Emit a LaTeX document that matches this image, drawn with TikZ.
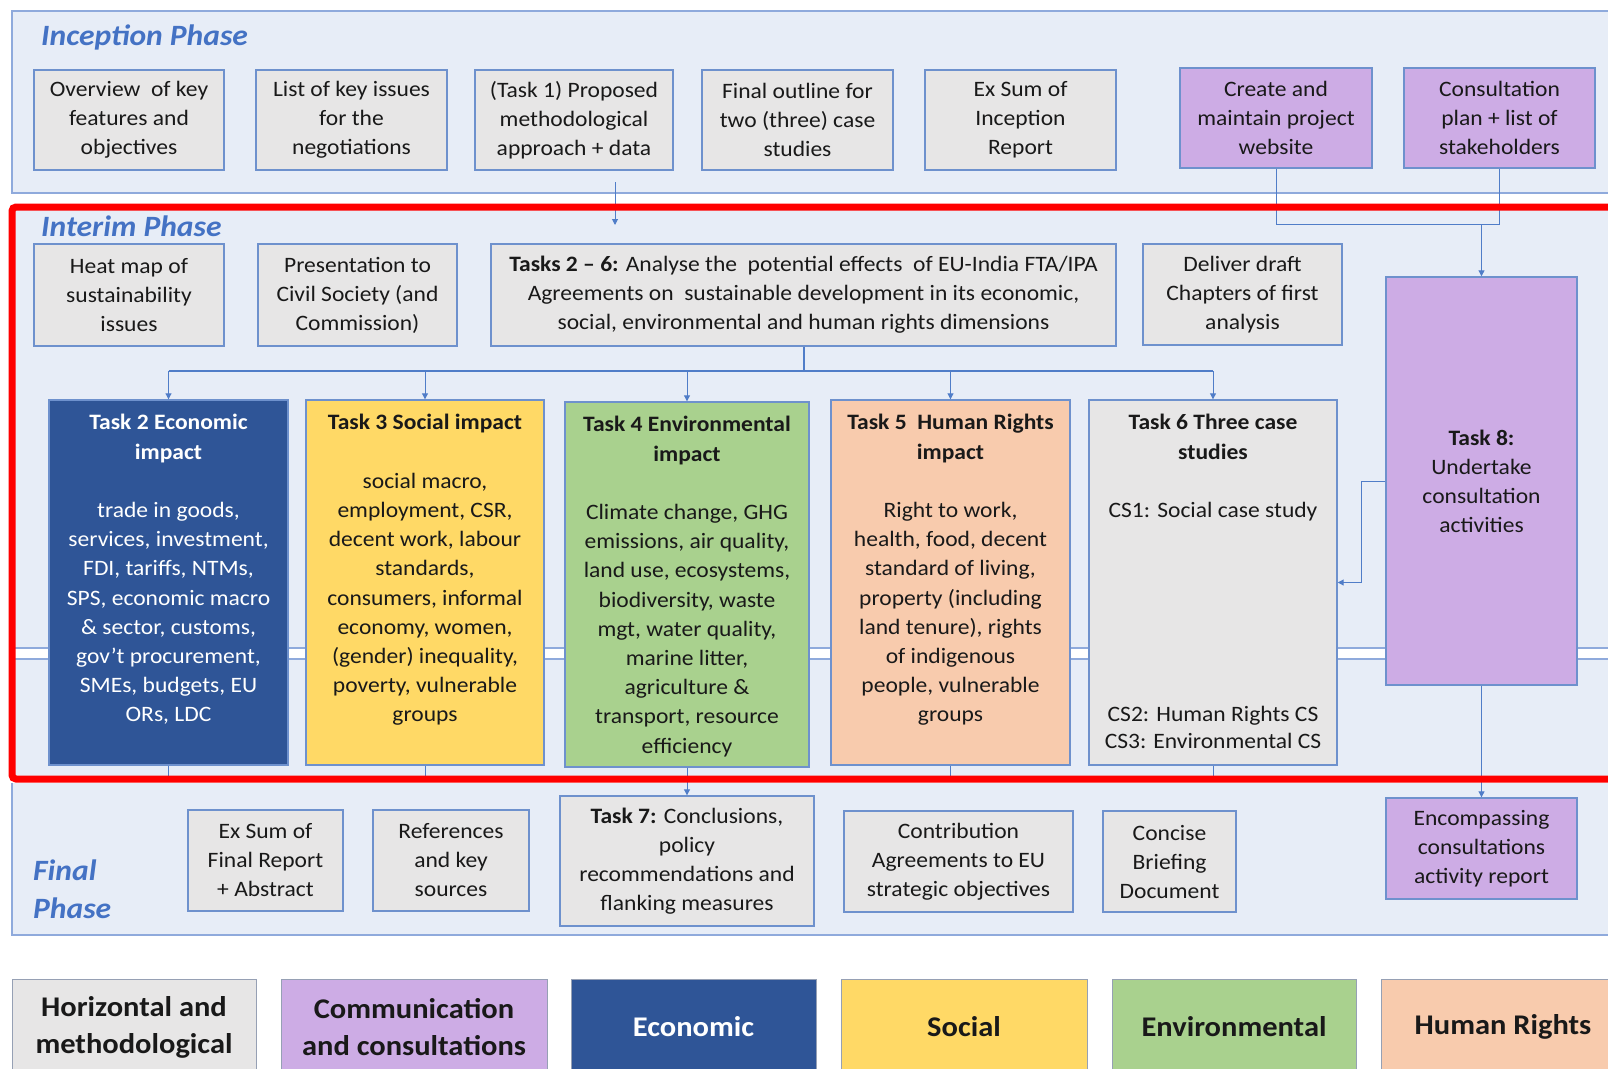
\documentclass[tikz,border=0pt]{standalone}
\usepackage{fontspec}
\setmainfont{Carlito}[FakeStretch=1.07]
\usetikzlibrary{arrows.meta}
\definecolor{panelfill}{RGB}{231,237,247}
\definecolor{panelline}{RGB}{143,170,220}
\definecolor{boxgrey}{RGB}{231,230,230}
\definecolor{boxline}{RGB}{110,145,205}
\definecolor{purp}{RGB}{205,172,229}
\definecolor{econ}{RGB}{47,85,151}
\definecolor{soc}{RGB}{255,217,102}
\definecolor{env}{RGB}{169,209,142}
\definecolor{hrc}{RGB}{248,203,173}
\definecolor{conn}{RGB}{80,125,200}
\definecolor{titleblue}{RGB}{68,114,196}
\definecolor{legline}{RGB}{150,160,180}
\begin{document}
\begin{tikzpicture}[x=1pt,y=-1pt,
  bx/.style={draw=boxline,line width=1.4pt,fill=boxgrey,inner sep=0pt,align=center,
     font=\fontsize{22}{29}\selectfont,text=black!90},
  pbx/.style={bx,fill=purp},
  tbx/.style={draw=boxline,line width=1.4pt,inner sep=0pt},
  ttxt/.style={inner sep=0pt,align=center,font=\fontsize{22}{29.2}\selectfont,text=black!90,anchor=north},
  phase/.style={font=\fontsize{29.5}{38}\selectfont\bfseries\itshape,text=titleblue,inner sep=0pt,align=left},
  leg/.style={draw=legline,line width=1pt,inner sep=0pt,align=center,
     font=\fontsize{28.5}{37}\selectfont\bfseries,text=black!90,minimum height=96},
  cn/.style={draw=conn,line width=1pt},
  arr/.style={cn,-{Triangle[width=6pt,length=6pt]}}
]
\useasboundingbox (0,0) rectangle (1608,1068);
\clip (0,0) rectangle (1608,1068);
% panels
\path[fill=panelfill] (12,11) rectangle (1660,193);
\draw[panelline,line width=1.5pt] (1660,11) -- (12,11) -- (12,193) -- (1660,193);
\path[fill=panelfill] (12,205) rectangle (1660,781);
\path[fill=panelfill] (12,783) rectangle (1660,935);
\draw[panelline,line width=1.5pt] (12,783) -- (12,935) -- (1660,935);
% white band
\fill[white] (12,648) rectangle (1660,659);
\draw[panelline,line width=1.2pt] (12,648) -- (1660,648) (12,659) -- (1660,659);
% phase titles
\node[phase,anchor=west] (tinc) at (41,37) {Inception Phase};
\node[phase,anchor=west] (tint) at (41,226) {Interim Phase};
\node[phase,anchor=west] (tfin) at (33,889) {Final\\Phase};
% inception row
\node[bx,minimum width=190,minimum height=100] (b1) at (129,120) {Overview\ \ of key\\features and\\objectives};
\node[bx,minimum width=191,minimum height=100] (b2) at (351.5,120) {List of key issues\\for the\\negotiations};
\node[bx,minimum width=198,minimum height=100] (b3) at (574,120) {(Task 1) Proposed\\methodological\\approach + data};
\node[bx,minimum width=191,minimum height=100] (b4) at (797.5,120) {Final outline for\\two (three) case\\studies};
\node[bx,minimum width=191,minimum height=100] (b5) at (1020.5,120) {Ex Sum of\\Inception\\Report};
\node[pbx,minimum width=192,minimum height=100] (b6) at (1276,118) {Create and\\maintain project\\website};
\node[pbx,minimum width=191,minimum height=100] (b7) at (1499.5,118) {Consultation\\plan + list of\\stakeholders};
% interim row
\node[bx,minimum width=190,minimum height=102] (hm) at (129,295) {Heat map of\\sustainability\\issues};
\node[bx,minimum width=199,minimum height=102] (pr) at (357.5,295) {Presentation to\\Civil Society (and\\Commission)};
\node[bx,minimum width=625,minimum height=102] (t26) at (803.5,295) {\textbf{Tasks 2 -- 6:} Analyse the\ \ potential effects\ \ of EU-India FTA/IPA\\Agreements on\ \ sustainable development in its economic,\\social, environmental and human rights dimensions};
\node[bx,minimum width=199,minimum height=101] (dd) at (1242.5,294.5) {Deliver draft\\Chapters of first\\analysis};
\node[pbx,minimum width=191,minimum height=408] (t8) at (1481.5,481) {\textbf{Task 8:}\\Undertake\\consultation\\activities};
% task boxes
\node[tbx,fill=econ,minimum width=239,minimum height=365] (t2) at (168.5,582.5) {};
\node[tbx,fill=soc,minimum width=238,minimum height=365] (t3) at (425,582.5) {};
\node[tbx,fill=env,minimum width=244,minimum height=365] (t4) at (687,584.5) {};
\node[tbx,fill=hrc,minimum width=239,minimum height=365] (t5) at (950.5,582.5) {};
\node[tbx,fill=boxgrey,minimum width=248,minimum height=365] (t6) at (1213,582.5) {};
\node[ttxt,text=white] (t2t) at ([yshift=-15pt]t2.north) {\textbf{Task 2 Economic}\\\textbf{impact}\\[29.2pt]trade in goods,\\services, investment,\\FDI, tariffs, NTMs,\\SPS, economic macro\\\& sector, customs,\\gov’t procurement,\\SMEs, budgets, EU\\ORs, LDC};
\node[ttxt] (t3t) at ([yshift=-15pt]t3.north) {\textbf{Task 3 Social impact}\\[29.2pt]social macro,\\employment, CSR,\\decent work, labour\\standards,\\consumers, informal\\economy, women,\\(gender) inequality,\\poverty, vulnerable\\groups};
\node[ttxt] (t4t) at ([yshift=-15pt]t4.north) {\textbf{Task 4 Environmental}\\\textbf{impact}\\[29.2pt]Climate change, GHG\\emissions, air quality,\\land use, ecosystems,\\biodiversity, waste\\mgt, water quality,\\marine litter,\\agriculture \&\\transport, resource\\efficiency};
\node[ttxt] (t5t) at ([yshift=-15pt]t5.north) {\textbf{Task 5\ \ Human Rights}\\\textbf{impact}\\[29.2pt]Right to work,\\health, food, decent\\standard of living,\\property (including\\land tenure), rights\\of indigenous\\people, vulnerable\\groups};
\node[ttxt] (t6t) at ([yshift=-15pt]t6.north) {\textbf{Task 6 Three case}\\\textbf{studies}\\[29.2pt]CS1: Social case study};
\node[ttxt,anchor=center,font=\fontsize{22}{27}\selectfont] (t6b) at (1213,727) {CS2: Human Rights CS\\CS3: Environmental CS};
% final row
\node[bx,minimum width=155,minimum height=101] (fs) at (265.5,860.5) {Ex Sum of\\Final Report\\+ Abstract};
\node[bx,minimum width=156,minimum height=101] (rf) at (451,860.5) {References\\and key\\sources};
\node[bx,minimum width=254,minimum height=130] (t7) at (687,861) {\textbf{Task 7:} Conclusions,\\policy\\recommendations and\\flanking measures};
\node[bx,minimum width=229,minimum height=101] (cb) at (958.5,861.5) {Contribution\\Agreements to EU\\strategic objectives};
\node[bx,minimum width=133,minimum height=101] (cc) at (1169.5,861.5) {Concise\\Briefing\\Document};
\node[pbx,minimum width=191,minimum height=101] (en) at (1481.5,848.5) {Encompassing\\consultations\\activity report};
% legend
\node[leg,fill=boxgrey,minimum width=244] (l1) at (134,1027) {Horizontal and\\methodological};
\node[leg,fill=purp,minimum width=266] (l2) at (414,1027) {Communication\\and consultations};
\node[leg,fill=econ,text=white,minimum width=245] (l3) at (693.5,1027) {Economic};
\node[leg,fill=soc,minimum width=246] (l4) at (964,1027) {Social};
\node[leg,fill=env,minimum width=244] (l5) at (1234,1027) {Environmental};
\node[leg,fill=hrc,minimum width=244] (l6) at (1503,1027) {Human Rights};
% connectors
\coordinate (incout) at (615,182);
\coordinate (intin) at (615,225);
\draw[arr] (incout) -- (intin);
\coordinate (bus) at (803.5,371);
\draw[cn,line width=2pt] (t26.south) -- (bus);
\draw[cn,line width=1.3pt] (t2.north |- bus) -- (t6.north |- bus);
\foreach \t in {t2,t3,t4,t5,t6} {\draw[arr] (\t.north |- bus) -- (\t.north);}
\coordinate (jc) at (1276,224);
\draw[cn] (b6.south) -- (jc) -| (b7.south);
\draw[arr] (t8.north |- jc) -- (t8.north);
\draw[arr] (t8.west) -- ++(-24,0) |- (t6.east);
\draw[arr] (t8.south) -- (en.north);
\draw[arr] (t4.south) -- (t7.north);
\foreach \t in {t2,t3,t5,t6} {\draw[cn] (\t.south) -- ++(0,14);}
% highlight
\draw[red,line width=7pt,rounded corners=4pt] (12,207) rectangle (1680,779);
\end{tikzpicture}
\end{document}
